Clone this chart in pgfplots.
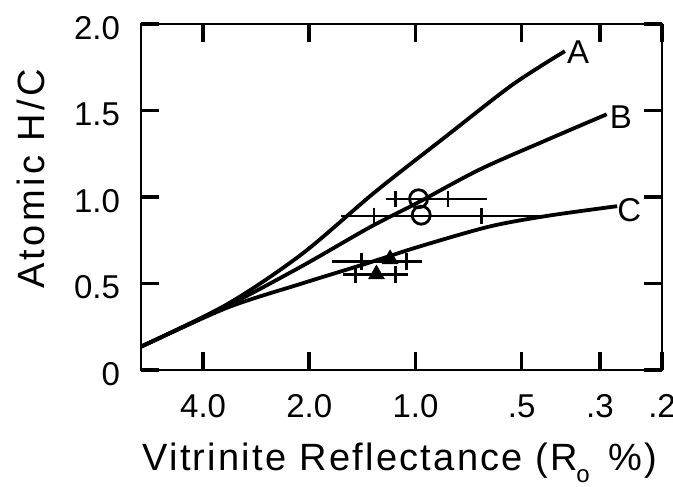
\documentclass[border=0pt]{standalone}
\usepackage{fontspec}
\setmainfont{Liberation Sans}
\usepackage{pgfplots}
\pgfplotsset{compat=1.18}

\begin{document}
\begin{tikzpicture}
\begin{axis}[
    scale only axis,
    width=260.5pt, height=173pt,
    xmode=log, x dir=reverse,
    xmin=0.2, xmax=6, ymin=0, ymax=2,
    xtick={0.2,0.3,0.5,1,2,4},
    xticklabels={.2,.3,.5,1.0,2.0,4.0},
    xminorticks=false,
    ytick={0,0.5,1,1.5,2},
    yticklabels={0,0.5,1.0,1.5,2.0},
    tick align=inside,
    major tick length=9pt,
    every tick/.append style={line width=1.8pt, black},
    axis line style={line width=1.4pt},
    ticklabel style={font=\fontsize{16.5}{18}\selectfont},
    xticklabel style={anchor=base, yshift=-23.5pt},
    yticklabel style={anchor=east, xshift=-7pt, yshift=-2pt},
    xlabel={Vitrinite Reflectance (R\kern-0.05em\raisebox{-6pt}{\fontsize{12}{12}\selectfont o}\hspace{0.5em}\%)},
    ylabel={Atomic H/C},
    every axis x label/.style={at={(axis description cs:0.497,-0.289)}, anchor=base,
        font=\fontsize{19}{21}\selectfont\addfontfeatures{LetterSpace=6}},
    every axis y label/.style={at={(axis description cs:-0.211,0.552)}, anchor=center, rotate=90,
        font=\fontsize{19}{21}\selectfont\addfontfeatures{LetterSpace=9}},
]
% curves A, B, C
\addplot[black, line width=1.9pt, smooth] coordinates {
    (6.0,0.135) (3.42,0.38) (2.10,0.67) (1.30,1.03) (0.82,1.35)
    (0.53,1.65) (0.377,1.843)};
\addplot[black, line width=1.9pt, smooth] coordinates {
    (6.0,0.135) (3.42,0.37) (2.10,0.60) (1.35,0.824) (0.98,0.97)
    (0.656,1.16) (0.424,1.33) (0.287,1.478)};
\addplot[black, line width=1.9pt, smooth] coordinates {
    (6.0,0.135) (3.42,0.36) (2.10,0.50) (1.38,0.615) (0.97,0.715)
    (0.615,0.83) (0.42,0.892) (0.268,0.947)};

% ranges of the samples
\addplot[black, line width=1.4pt] coordinates {(1.21,0.988) (0.627,0.988)};
\addplot[black, line width=1.4pt] coordinates {(1.63,0.89) (0.42,0.89)};
\addplot[black, line width=1.4pt] coordinates {(1.72,0.629) (0.96,0.629)};
\addplot[black, line width=1.4pt] coordinates {(1.60,0.553) (1.05,0.553)};
\addplot[only marks, mark=|, mark size=4.2pt, black, line width=1.4pt] coordinates {
    (1.14,0.988) (0.809,0.988) (1.31,0.89) (0.649,0.89)
    (1.42,0.629) (1.06,0.629) (1.48,0.553) (1.14,0.553)};

% samples
\addplot[only marks, mark=o, mark size=4.5pt, black, line width=1.4pt,
    mark options={fill=white}] coordinates {(0.98,0.99) (0.963,0.895)};
\addplot[only marks, mark=triangle*, mark size=4.5pt, black] coordinates {
    (1.18,0.641) (1.29,0.553)};

\node[font=\fontsize{16.5}{18}\selectfont] at (axis description cs:0.839,0.919) {A};
\node[font=\fontsize{16.5}{18}\selectfont] at (axis description cs:0.921,0.731) {B};
\node[font=\fontsize{16.5}{18}\selectfont] at (axis description cs:0.937,0.462) {C};

\coordinate (bbl) at (axis description cs:-0.2706,-0.3353);
\coordinate (btr) at (axis description cs:1.0211,1.0694);
\end{axis}
\pgfresetboundingbox
\useasboundingbox (bbl) rectangle (btr);
\end{tikzpicture}
\end{document}
